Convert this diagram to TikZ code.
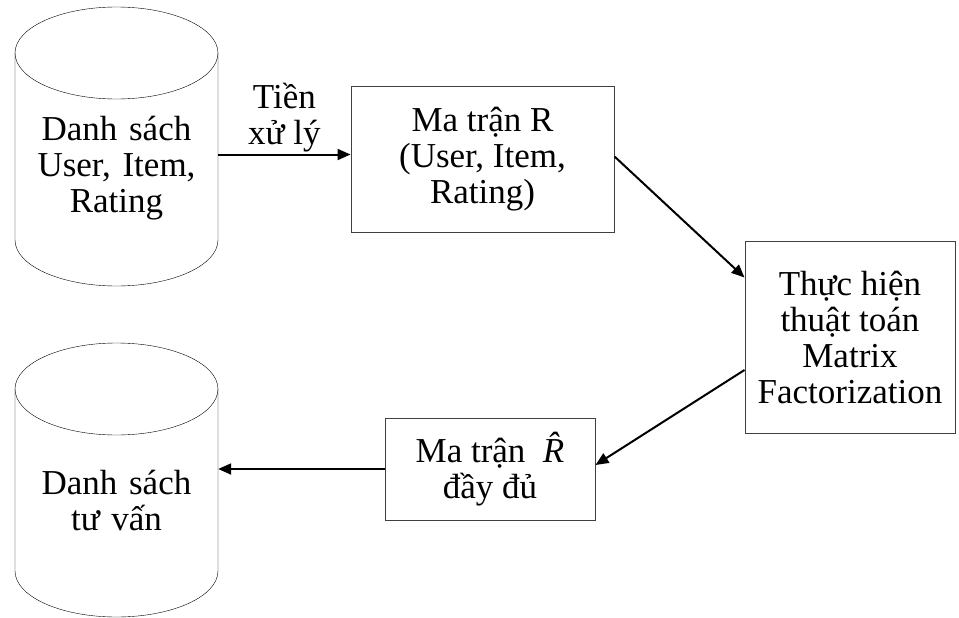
\documentclass[tikz,border=0pt]{standalone}
\usepackage{fontspec}
\setmainfont{Liberation Serif}
\usepackage{tikz}
\usetikzlibrary{arrows.meta, positioning}

\begin{document}
\begin{tikzpicture}[
  x=1pt, y=-1pt,
  font=\fontsize{35}{36}\selectfont,
  dbtext/.style = {text width=203pt, align=center, inner sep=0pt},
  block/.style  = {draw=black!75, line width=1pt, rectangle,
                   align=center, inner sep=0pt},
  arr/.style    = {-{Triangle[length=13pt, width=11pt]}, line width=2pt},
]
\useasboundingbox (0,0) rectangle (959,618);

% hai co so du lieu
\draw (116.5,53) ellipse[x radius=101.5, y radius=46];
\draw (15,53) -- (15,240) arc[start angle=180, end angle=0, x radius=101.5, y radius=46] -- (218,53);
\draw (116.5,389) ellipse[x radius=101.5, y radius=46];
\draw (15,389) -- (15,571) arc[start angle=180, end angle=0, x radius=101.5, y radius=46] -- (218,389);

\node[dbtext] (src) at (116.5,168) {Danh sách\\User, Item,\\Rating};
\node[dbtext] (res) at (116.5,500) {Danh sách\\tư vấn};

\node[block, minimum width=263pt, minimum height=145pt] (rmat) at (482.5,159.5)
  {Ma trận R\\(User, Item,\\Rating)};
\node[block, minimum width=210pt, minimum height=192pt] (mf) at (850,337)
  {Thực hiện\\thuật toán\\Matrix\\Factorization};
\node[block, minimum width=210pt, minimum height=102pt] (rhat) at (490,469)
  {Ma trận \ \makebox[0pt][l]{\textit{\^R}}\phantom{\textit{R}}\\đầy đủ};

\coordinate (rin) at ([yshift=5pt]rmat.west);
\draw[arr] (src.east |- rin) -- node[above, align=center, inner sep=1pt]{Tiền\\xử lý} (rin);
\draw[arr] ([yshift=3pt]rmat.east) -- ([yshift=-37pt]mf.north west);

% ket qua tro ve
\draw[arr] ([yshift=-33pt]mf.west) -- ([yshift=4pt]rhat.east);
\draw[arr] (rhat.west) -- (res.east |- rhat.west);

\end{tikzpicture}
\end{document}
